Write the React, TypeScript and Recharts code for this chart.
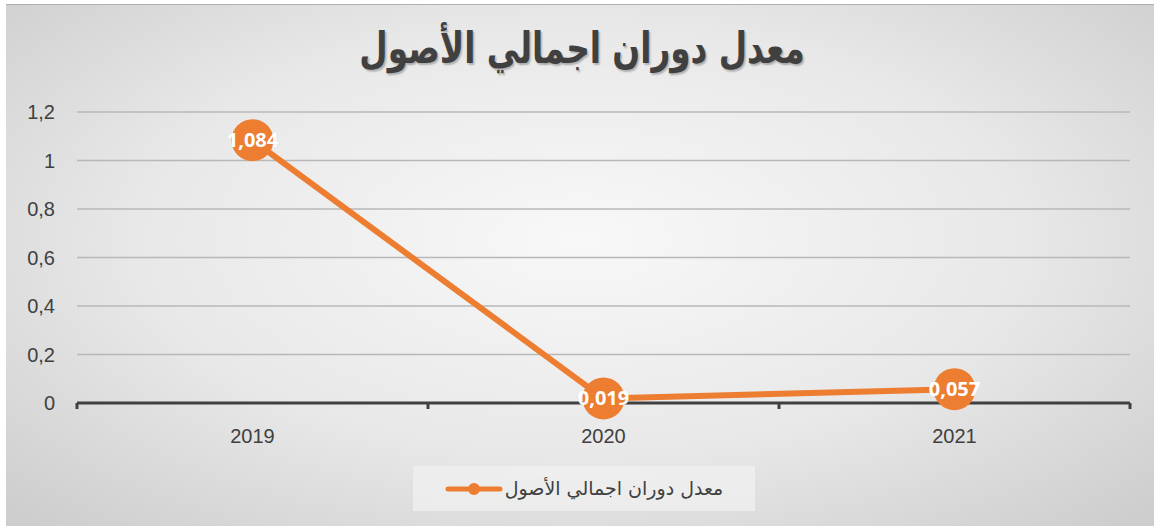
import React from 'react';
import { LineChart, Line, XAxis, YAxis, CartesianGrid, LabelList, Legend } from 'recharts';

const TITLE = 'معدل دوران اجمالي الأصول';
const SERIES_NAME = 'معدل دوران اجمالي الأصول';
const years = ['2019', '2020', '2021'];
const values = [1.084, 0.019, 0.057];
const yTicks = [0, 0.2, 0.4, 0.6, 0.8, 1, 1.2];
const xTicks = [0, 0.5, 1, 1.5, 2, 2.5, 3];

const data = years.map((y, i) => ({ pos: i + 0.5, year: y, value: values[i] }));

const W = 1156;
const H = 527;
const ORANGE = '#ED7D31';
const TEXT = '#404040';
const AXIS_FONT = 'Liberation Sans, Arial, sans-serif';

const fmt = (v: number) => String(v).replace('.', ',');

const XTick = (props: any) => {
  const { x, y, payload } = props;
  const v = payload.value as number;
  if (Number.isInteger(v)) {
    return <line x1={x} y1={y} x2={x} y2={y + 6} stroke={TEXT} strokeWidth={3} />;
  }
  return (
    <text x={x} y={y + 40} textAnchor="middle" fill={TEXT} fontSize={20} fontFamily={AXIS_FONT}>
      {years[Math.floor(v)]}
    </text>
  );
};

const LegendContent = () => (
  <div
    style={{
      width: 342,
      height: 45,
      background: 'rgba(240,240,240,0.75)',
      display: 'flex',
      alignItems: 'center',
      justifyContent: 'center',
      gap: 2,
      fontFamily: '"DejaVu Sans", sans-serif',
      fontSize: 19,
      color: TEXT,
    }}
  >
    <svg width={58} height={14}>
      <line x1={3} y1={7} x2={55} y2={7} stroke={ORANGE} strokeWidth={5} strokeLinecap="round" />
      <circle cx={29} cy={7} r={6} fill={ORANGE} />
    </svg>
    <span dir="rtl" style={{ marginTop: -2 }}>{SERIES_NAME}</span>
  </div>
);

export default function App() {
  return (
    <div style={{ position: 'absolute', left: 0, top: 0, width: W, height: H, background: '#ffffff' }}>
      <div
        style={{
          position: 'absolute',
          left: 6,
          top: 4,
          width: W - 8,
          height: H - 6,
          borderTop: '1px solid #b0b0b0',
          background: 'radial-gradient(ellipse 70% 75% at 50% 45%, #f8f8f8 0%, #e8e8e8 55%, #cdcdcd 100%)',
        }}
      />
      <div
        dir="rtl"
        style={{
          position: 'absolute',
          left: 0,
          top: 23,
          width: W,
          textAlign: 'center',
          fontFamily: '"DejaVu Sans", sans-serif',
          fontWeight: 'bold',
          fontSize: 43,
          color: TEXT,
          transform: 'translateX(4px) scaleX(0.76)',
          textShadow: '2px 2px 2px rgba(0,0,0,0.25)',
        }}
      >
        {TITLE}
      </div>
      <div style={{ position: 'absolute', left: 0, top: 0 }}>
        <LineChart width={W} height={H} data={data} margin={{ top: 112, right: 26, bottom: 94, left: 0 }}>
          <CartesianGrid horizontal vertical={false} stroke="#b8b8b8" strokeWidth={1.5} />
          <XAxis
            dataKey="pos"
            type="number"
            domain={[0, 3]}
            ticks={xTicks}
            interval={0}
            tick={<XTick />}
            tickLine={false}
            tickSize={0}
            tickMargin={0}
            axisLine={{ stroke: TEXT, strokeWidth: 3 }}
            height={30}
          />
          <YAxis
            type="number"
            domain={[0, 1.2]}
            ticks={yTicks}
            tickFormatter={fmt}
            axisLine={false}
            tickLine={false}
            width={77}
            tickMargin={16}
            tick={{ fill: TEXT, fontSize: 20, fontFamily: AXIS_FONT }}
          />
          <Legend
            verticalAlign="middle"
            align="center"
            content={<LegendContent />}
            wrapperStyle={{ position: 'absolute', left: 413, top: 466, width: 342, height: 45 }}
          />
          <Line
            dataKey="value"
            stroke={ORANGE}
            strokeWidth={6}
            dot={{ r: 21, fill: ORANGE, stroke: 'none' }}
            activeDot={false}
            isAnimationActive={false}
          >
            <LabelList
              dataKey="value"
              position="center"
              formatter={(v: number) => fmt(v)}
              fill="#ffffff"
              style={{ fontSize: 20, fontWeight: 'bold', fontFamily: '"Open Sans", sans-serif' }}
            />
          </Line>
        </LineChart>
      </div>
    </div>
  );
}
